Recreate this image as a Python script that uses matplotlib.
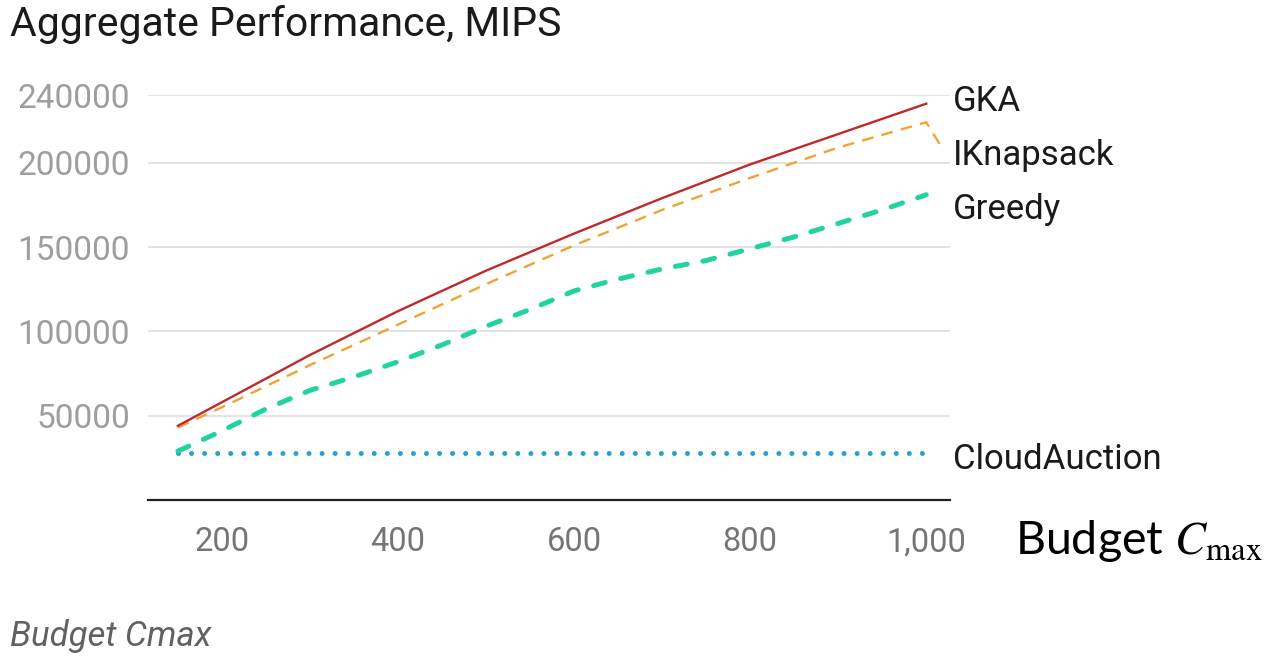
import matplotlib.pyplot as plt

plt.rcParams['font.family'] = ['Roboto', 'DejaVu Sans']
plt.rcParams['mathtext.fontset'] = 'stix'

# Budget values (x axis)
budget = [150, 200, 300, 400, 500, 600, 700, 800, 900, 1000]
budget_ikn = [150, 200, 300, 400, 500, 600, 700, 800, 900, 1000, 1020]
budget_greedy = [150, 200, 250, 300, 350, 400, 450, 500, 550, 600,
                 650, 700, 750, 800, 850, 900, 950, 1000]

# Aggregate performance (MIPS)
gka = [44000, 58000, 86000, 112000, 136000, 158000, 179000, 199000, 217000, 235000]
iknapsack = [43000, 55000, 80000, 104000, 128000, 151000, 172000, 191000, 209000, 224000, 207000]
greedy = [29000, 41000, 54000, 65000, 73000, 82000, 92000, 103000, 113000, 124000,
          131000, 137000, 142000, 149000, 156000, 164000, 172000, 181000]
cloud_auction = [28000] * len(budget)

yticks = [50000, 100000, 150000, 200000, 240000]
xticks = [200, 400, 600, 800, 1000]
xtick_labels = ['200', '400', '600', '800', '1,000']

fig = plt.figure(figsize=(12.64, 6.56), dpi=100)
ax = fig.add_axes([0.1171, 0.2378, 0.6345, 0.617])

ax.plot(budget, cloud_auction, color='#2b9fcd', lw=3.6, linestyle=(0, (0.01, 2.6)),
        dash_capstyle='round', solid_capstyle='round', clip_on=False)
ax.plot(budget_greedy, greedy, color='#22d3a2', lw=3.6, linestyle=(0, (2.4, 3.2)),
        dash_capstyle='round', clip_on=False)
ax.plot(budget_ikn, iknapsack, color='#f2a233', lw=1.7, linestyle=(0, (5, 3.5)),
        clip_on=False)
ax.plot(budget, gka, color='#c0282c', lw=1.7, clip_on=False)

ax.set_xlim(116, 1027)
ax.set_ylim(0, 240000)
ax.set_yticks(yticks)
ax.set_yticklabels([str(v) for v in yticks])
ax.set_xticks(xticks)
ax.set_xticklabels(xtick_labels)
ax.tick_params(axis='y', length=0, pad=13, labelsize=24, labelcolor='#9e9e9e')
ax.tick_params(axis='x', length=0, pad=19, labelsize=23.5, labelcolor='#757575')
ax.grid(axis='y', color='#e3e3e3', lw=1.4)
ax.set_axisbelow(True)
for side in ['top', 'right', 'left']:
    ax.spines[side].set_visible(False)
ax.spines['bottom'].set_color('#222222')
ax.spines['bottom'].set_linewidth(1.6)

# series names at the right end
label_y = {'GKA': 236000, 'IKnapsack': 204000, 'Greedy': 172000, 'CloudAuction': 24000}
for name, yv in label_y.items():
    ax.text(1030, yv, name, fontsize=25, color='#1a1a1a', va='center', ha='left',
            transform=ax.transData)

fig.text(0.008, 0.962, 'Aggregate Performance, MIPS', fontsize=29.5, color='#1a1a1a',
         va='center', ha='left')
fig.text(0.008, 0.031, 'Budget Cmax', fontsize=25, style='italic', color='#616161',
         va='center', ha='left')
fig.text(0.803, 0.175, r'Budget $C_{\mathrm{max}}$', fontsize=33.5, color='black',
         va='center', ha='left', family=['Lato', 'DejaVu Sans'])

fig.savefig('out.png', dpi=100)
